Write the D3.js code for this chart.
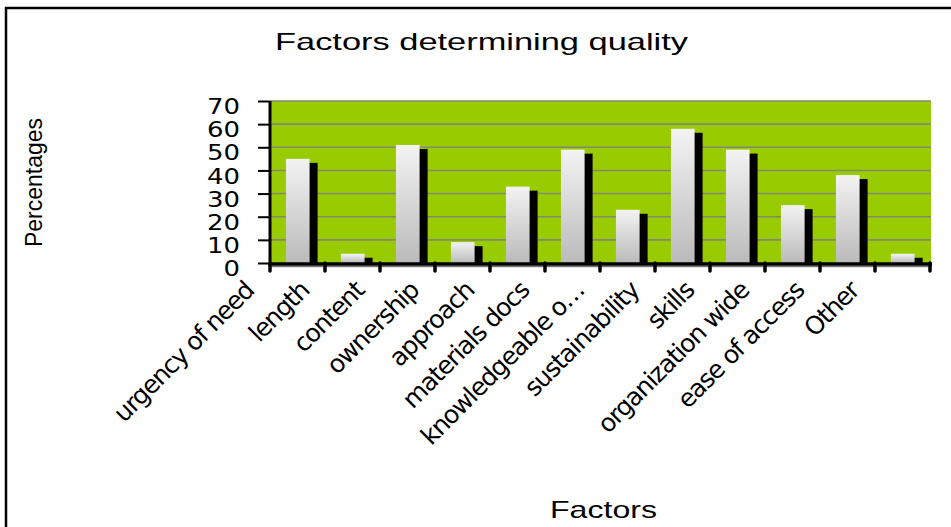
<!DOCTYPE html>
<html>
<head>
<meta charset="utf-8">
<script src="https://cdn.jsdelivr.net/npm/d3@7"></script>
<style>
  body { margin: 0; background: #fff; }
  svg { display: block; }
</style>
</head>
<body>
<svg></svg>
<script>
// data
let categories = ['urgency of need', 'length', 'content', 'ownership', 'approach', 'materials docs',
                  'knowledgeable o\u2026', 'sustainability', 'skills', 'organization wide', 'ease of access', 'Other']
let values = [45, 4, 51, 9, 33, 49, 23, 58, 49, 25, 38, 4]
let yTicks = [0, 10, 20, 30, 40, 50, 60, 70]

let width = 951
let height = 527

let plotLeft = 270
let plotRight = 931
let plotTop = 101
let plotBottom = 263

let svg = d3.select('svg')
    .attr('width', width)
    .attr('height', height)

let xScale = d3.scaleBand()
    .domain(categories)
    .range([plotLeft, plotRight - 1])
    .paddingInner(0)
    .paddingOuter(0)

let yScale = d3.scaleLinear()
    .domain([0, 70])
    .range([plotBottom, plotTop])

// chart border
svg.append('rect')
    .attr('x', 6)
    .attr('y', 8)
    .attr('width', width + 20)
    .attr('height', height + 20)
    .attr('fill', 'none')
    .attr('stroke', '#000')
    .attr('stroke-width', 2.5)

// gradient for the bars
let grad = svg.append('defs').append('linearGradient')
    .attr('id', 'barGrad')
    .attr('x1', 0).attr('y1', 0).attr('x2', 0).attr('y2', 1)
grad.append('stop').attr('offset', '0%').attr('stop-color', '#f3f3f3')
grad.append('stop').attr('offset', '100%').attr('stop-color', '#bababa')

// plot area
svg.append('rect')
    .attr('x', plotLeft)
    .attr('y', plotTop)
    .attr('width', plotRight - plotLeft)
    .attr('height', plotBottom - plotTop)
    .attr('fill', '#99cc00')

// gridlines
svg.append('g')
    .selectAll('line')
    .data(yTicks.filter(t => t > 0))
    .enter()
    .append('line')
    .attr('x1', plotLeft)
    .attr('x2', plotRight)
    .attr('y1', d => yScale(d))
    .attr('y2', d => yScale(d))
    .attr('stroke', '#85876f')
    .attr('stroke-width', 1.6)

let bw = xScale.bandwidth()
let barOffset = bw * 0.29
let barWidth = bw * 0.43

// shadows
svg.append('g')
    .selectAll('rect')
    .data(values)
    .enter()
    .append('rect')
    .attr('x', (d, i) => xScale(categories[i]) + barOffset + 8)
    .attr('y', d => yScale(d) + 4)
    .attr('width', barWidth)
    .attr('height', d => plotBottom - yScale(d) - 4)
    .attr('fill', '#000')

// bars
svg.append('g')
    .selectAll('rect')
    .data(values)
    .enter()
    .append('rect')
    .attr('x', (d, i) => xScale(categories[i]) + barOffset)
    .attr('y', d => yScale(d))
    .attr('width', barWidth)
    .attr('height', d => plotBottom - yScale(d))
    .attr('fill', 'url(#barGrad)')

// y axis
let yAxis = d3.axisLeft(yScale)
    .tickValues(yTicks)
    .tickSize(12)
    .tickPadding(18)
    .tickFormat(d3.format('d'))

let yG = svg.append('g')
    .attr('transform', 'translate(' + plotLeft + ', 0)')
    .call(yAxis)
yG.select('.domain').remove()
yG.selectAll('line').attr('stroke', '#000').attr('stroke-width', 2)
yG.selectAll('text')
    .attr('font-family', 'DejaVu Sans, sans-serif')
    .attr('font-size', 21)
    .attr('fill', '#000')
    .attr('dy', '0.6em')
    .attr('textLength', d => String(d).length * 16.5)
    .attr('lengthAdjust', 'spacingAndGlyphs')

svg.append('line')
    .attr('x1', plotLeft).attr('x2', plotLeft)
    .attr('y1', plotTop).attr('y2', plotBottom + 3)
    .attr('stroke', '#000')
    .attr('stroke-width', 3)

// x axis: floor line, black axis and boundary ticks
svg.append('line')
    .attr('x1', plotLeft).attr('x2', plotRight + 1)
    .attr('y1', plotBottom + 3.5).attr('y2', plotBottom + 3.5)
    .attr('stroke', '#777')
    .attr('stroke-width', 1.5)

svg.append('line')
    .attr('x1', plotLeft).attr('x2', plotRight + 1)
    .attr('y1', plotBottom + 1).attr('y2', plotBottom + 1)
    .attr('stroke', '#000')
    .attr('stroke-width', 3.5)

let boundaries = categories.map(c => xScale(c)).concat([xScale.range()[1]])
svg.append('g')
    .selectAll('line')
    .data(boundaries)
    .enter()
    .append('line')
    .attr('x1', d => d).attr('x2', d => d)
    .attr('y1', plotBottom)
    .attr('y2', plotBottom + 8)
    .attr('stroke', '#000')
    .attr('stroke-width', 3.5)
    .attr('stroke-linecap', 'round')

// category labels
svg.append('g')
    .selectAll('text')
    .data(categories)
    .enter()
    .append('text')
    .attr('transform', d => 'translate(' + (xScale(d) + bw / 2 - 42) + ',' + 292 + ') rotate(-45)')
    .attr('text-anchor', 'end')
    .attr('font-family', 'DejaVu Sans, sans-serif')
    .attr('font-size', 25)
    .attr('letter-spacing', -1.2)
    .attr('fill', '#000')
    .text(d => d)

// titles
svg.append('text')
    .attr('x', 275)
    .attr('y', 50)
    .attr('font-family', 'Liberation Sans, sans-serif')
    .attr('font-size', 24)
    .attr('textLength', 413)
    .attr('lengthAdjust', 'spacingAndGlyphs')
    .attr('fill', '#000')
    .text('Factors determining quality')

svg.append('text')
    .attr('x', 550)
    .attr('y', 518)
    .attr('font-family', 'Liberation Sans, sans-serif')
    .attr('font-size', 24)
    .attr('textLength', 107)
    .attr('lengthAdjust', 'spacingAndGlyphs')
    .attr('fill', '#000')
    .text('Factors')

svg.append('text')
    .attr('transform', 'translate(42, 247) rotate(-90)')
    .attr('font-family', 'Liberation Sans, sans-serif')
    .attr('font-size', 24)
    .attr('textLength', 129)
    .attr('lengthAdjust', 'spacingAndGlyphs')
    .attr('fill', '#000')
    .text('Percentages')
</script>
</body>
</html>
